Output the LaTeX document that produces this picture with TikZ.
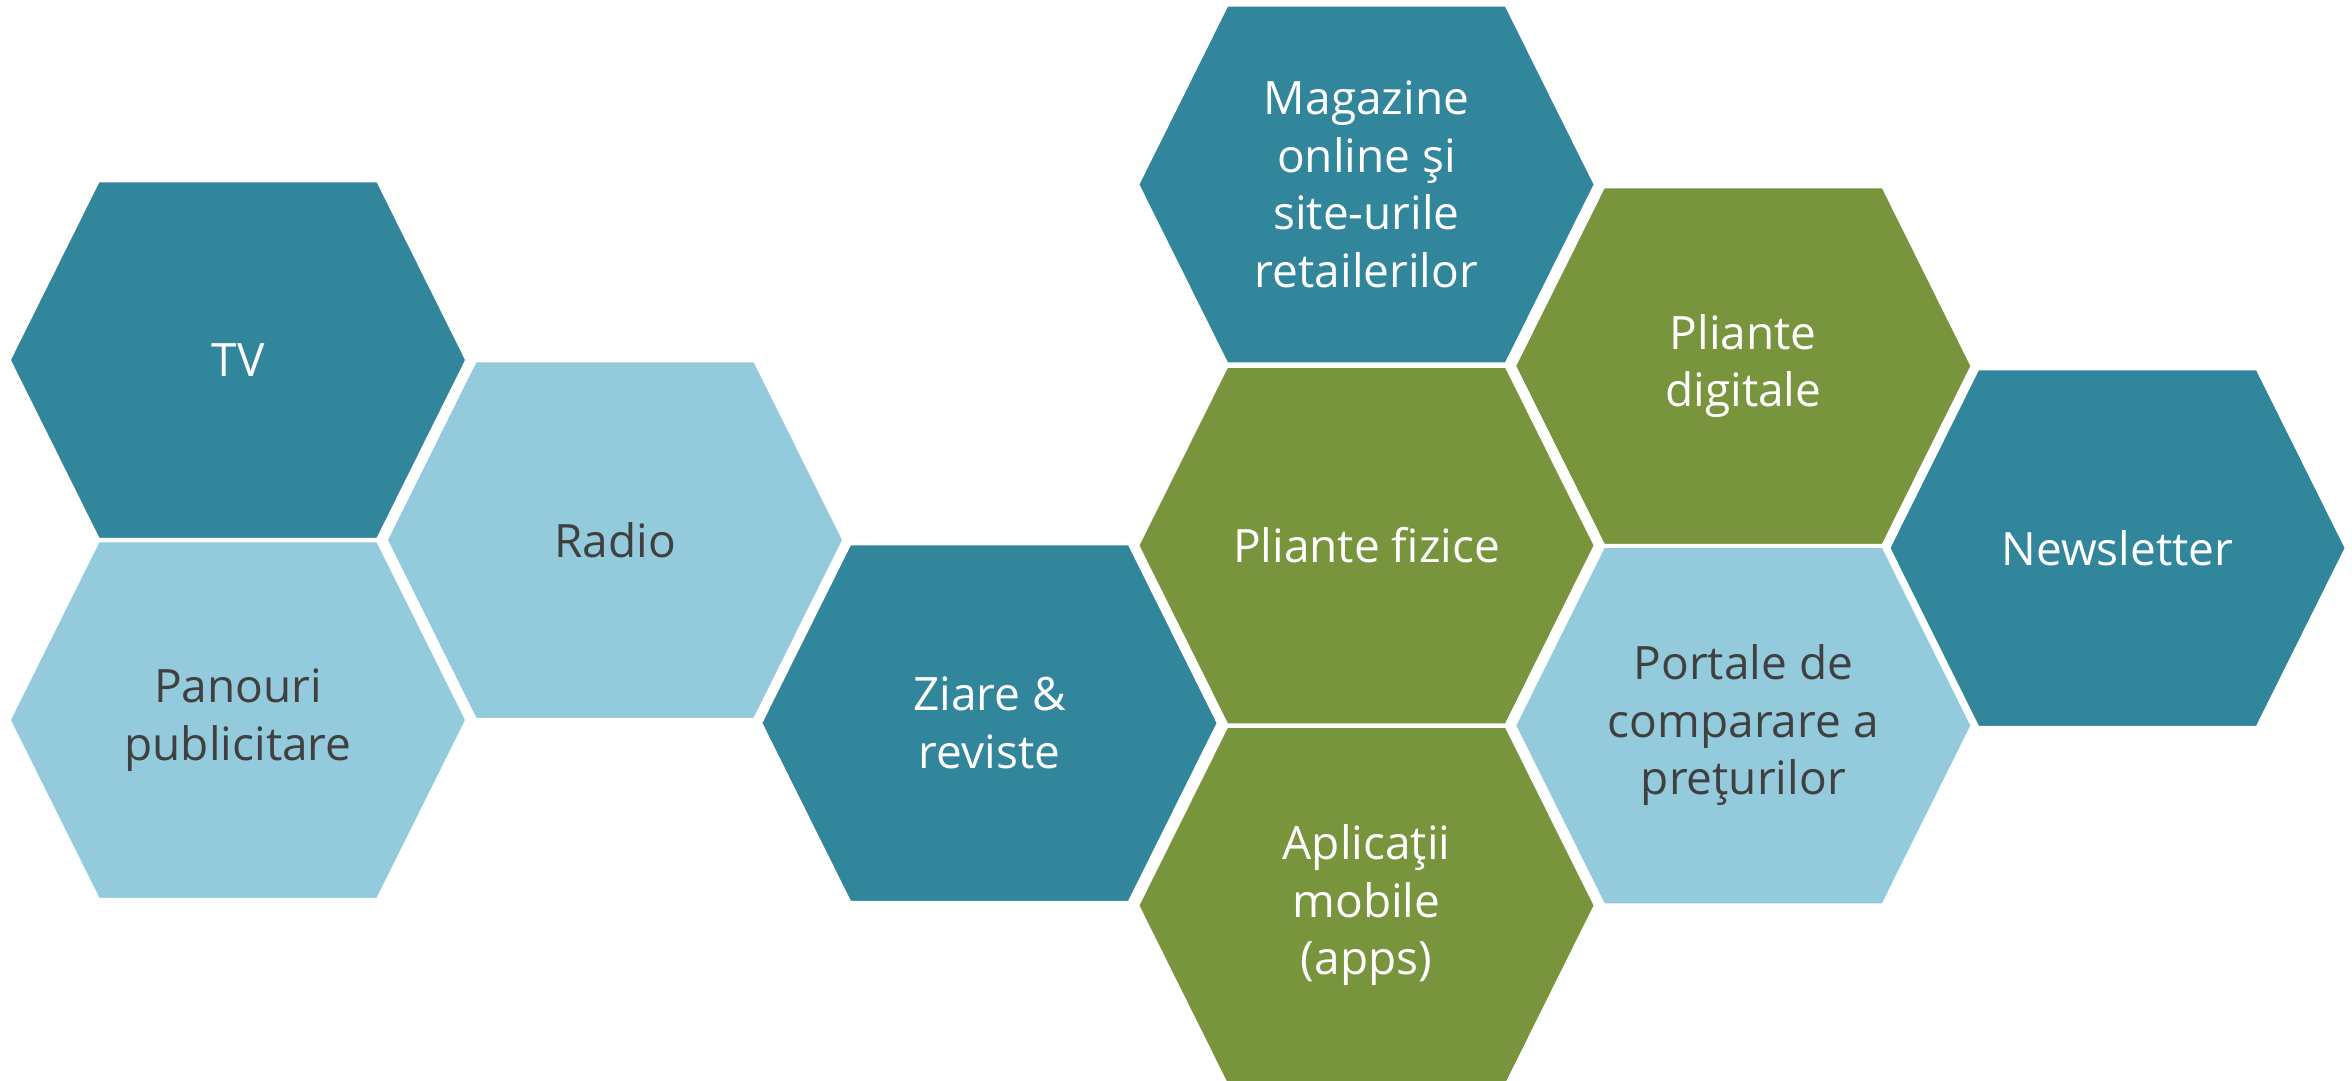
\documentclass[tikz,border=0pt]{standalone}
\usepackage{fontspec}
\setmainfont{Open Sans}
\usepackage{xcolor}
\usepackage{tikz}
\usetikzlibrary{backgrounds}

\definecolor{bleu}{HTML}{32869C}
\definecolor{bleuclair}{HTML}{94CBDC}
\definecolor{vert}{HTML}{78943D}
\definecolor{gris}{HTML}{404040}

\tikzset{
  canal/.style={align=center, inner sep=0pt, font=\fontsize{46}{57.5}\selectfont},
  fonce/.style={canal, text=white},
  clair/.style={canal, text=gris},
  alveole/.style={fill=#1, draw=white, line width=2.5pt}
}

\begin{document}
\begin{tikzpicture}[x=1pt,y=-1pt]
\useasboundingbox (0,0) rectangle (2352,1081);
  \node[fonce]  (TV)  at (238,360)     {TV};
  \node[clair]  (PAN) at (238,720)     {Panouri\\publicitare};
  \node[clair]  (RAD) at (615,540)     {Radio};
  \node[fonce]  (ZIA) at (989.5,723)   {Ziare \&\\reviste};
  \node[fonce]  (MAG) at (1366.5,184.5){Magazine\\online şi\\site-urile\\retailerilor};
  \node[fonce]  (PLF) at (1366.5,545.5){Pliante fizice};
  \node[fonce]  (APP) at (1366.5,905.5){Aplicaţii\\mobile\\(apps)};
  \node[fonce]  (PLD) at (1743.3,366)  {Pliante\\digitale};
  \node[clair]  (POR) at (1743.3,725.5){Portale de\\comparare a\\preţurilor};
  \node[fonce]  (NEW) at (2117.5,548)  {Newsletter};

\begin{scope}[on background layer]
  \foreach \n/\c in {TV/bleu, PAN/bleuclair, RAD/bleuclair, ZIA/bleu, MAG/bleu,
                     PLF/vert, APP/vert, PLD/vert, POR/bleuclair, NEW/bleu}
    \path[alveole=\c] (\n.center) ++(-228.5,0) -- ++(89,-179) -- ++(279,0)
      -- ++(89,179) -- ++(-89,179) -- ++(-279,0) -- cycle;
\end{scope}
\end{tikzpicture}
\end{document}
